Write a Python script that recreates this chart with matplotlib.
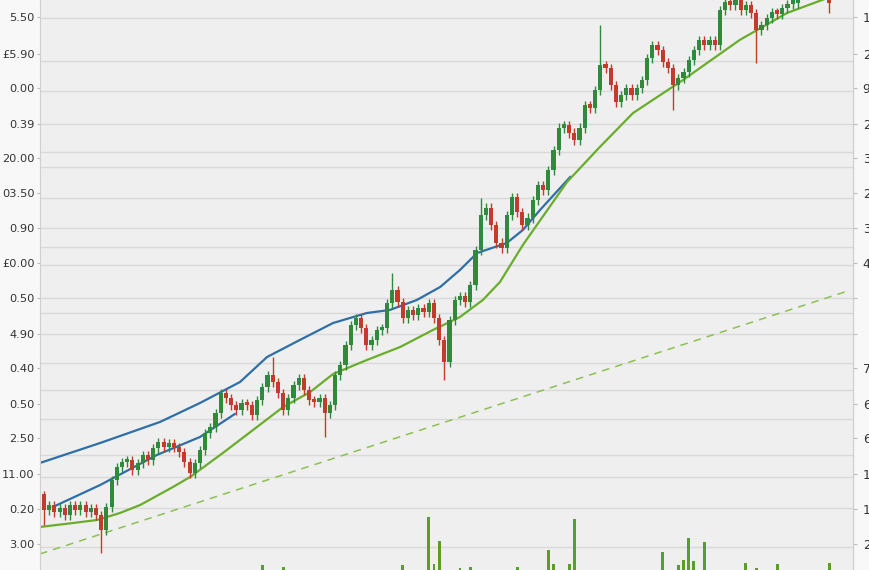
import matplotlib.pyplot as plt

# closing prices, one per session (first open given separately)
closes = [
    9.0, 9.5, 8.8, 9.2, 8.5, 9.5, 9.0, 9.5, 8.8, 9.2,
    8.5, 7.0, 9.3, 12.0, 13.3, 13.8, 14.0, 13.0, 13.7, 14.5,
    14.0, 15.2, 15.8, 15.3, 15.7, 15.3, 14.8, 13.8, 12.7, 13.7,
    15.0, 16.7, 17.3, 18.7, 20.7, 20.2, 19.5, 19.0, 19.7, 19.5,
    18.5, 20.0, 21.3, 22.5, 21.8, 20.7, 19.0, 20.2, 21.5, 22.2,
    21.0, 20.0, 19.8, 20.2, 18.7, 19.5, 22.5, 23.5, 25.5, 27.5,
    28.2, 27.2, 25.5, 26.0, 27.0, 27.2, 29.7, 31.0, 29.8, 28.2,
    29.0, 28.5, 29.2, 28.8, 29.7, 28.2, 26.0, 23.8, 28.0, 30.0,
    30.4, 29.8, 31.5, 35.0, 38.5, 39.2, 37.5, 35.7, 35.2, 38.5,
    40.3, 38.8, 37.5, 38.2, 40.0, 41.5, 41.0, 43.0, 45.0, 47.2,
    47.5, 46.7, 46.0, 47.2, 49.5, 49.2, 51.0, 53.5, 53.2, 51.5,
    49.8, 50.5, 51.2, 50.5, 51.2, 52.0, 54.2, 55.5, 55.0, 53.8,
    53.2, 51.5, 52.2, 52.8, 54.0, 55.0, 56.0, 55.5, 56.0, 55.5,
    59.0, 59.8, 59.5, 60.0, 59.0, 59.5, 58.7, 57.0, 57.5, 58.2,
    58.8, 58.6, 59.2, 59.6, 59.7, 61.0, 62.0, 62.5, 62.0, 61.5,
    61.0, 59.7,
]
first_open = 10.6
long_highs = {0: 10.9, 44: 24.3, 67: 32.7, 84: 40.2, 107: 57.5}
long_lows = {0: 7.5, 11: 4.7, 54: 16.3, 77: 22.0, 121: 49.0, 137: 53.7, 151: 58.7}

# moving averages / trend (session index, price)
ma_upper_x = [-0.8, 10.8, 22.3, 30.0, 37.7, 42.9, 49.2, 55.6, 62.1, 66.5, 71.7, 76.2, 80.0, 83.3, 89.0, 92.1, 95.4, 101.2]
ma_upper_y = [13.7, 15.7, 17.8, 19.7, 21.8, 24.3, 26.0, 27.7, 28.7, 29.0, 30.0, 31.3, 33.0, 34.7, 35.7, 37.0, 39.0, 42.3]
ma_lower_x = [1.7, 10.8, 21.7, 30.0, 36.7]
ma_lower_y = [9.3, 11.5, 14.5, 16.3, 18.6]
ma_green_x = [-0.8, 5.6, 10.2, 14.6, 18.5, 24.8, 28.1, 34.4, 40.2, 46.0, 51.2, 55.6, 62.1,
              68.5, 74.8, 80.0, 84.4, 87.7, 92.1, 100.6, 106.9, 113.3, 122.9, 133.8, 142.9, 151.2]
ma_green_y = [7.3, 7.7, 8.0, 8.7, 9.5, 11.3, 12.3, 14.7, 17.0, 19.3, 20.8, 22.6, 24.0,
              25.3, 27.0, 28.3, 30.0, 31.8, 35.5, 41.8, 45.3, 48.7, 52.0, 56.0, 58.7, 60.3]
trend_x = [-0.8, 154.0]
trend_y = [4.6, 30.8]

# volume bars (session index, volume)
vol_idx = [42, 46, 69, 74, 75, 76, 80, 82, 91, 97, 98, 101, 102,
           119, 122, 123, 124, 125, 127, 135, 137, 141, 151]
vol_val = [500, 300, 500, 5300, 600, 2900, 200, 300, 300, 2000, 600, 600, 5100,
           1800, 500, 1000, 3200, 900, 2800, 700, 200, 600, 700]

tick_pos = [58.3, 54.6, 51.2, 47.6, 44.2, 40.7, 37.2, 33.7, 30.2, 26.6, 23.2, 19.6, 16.2, 12.6, 9.1, 5.6]
left_labels = ["5.50", "£5.90", "0.00", "0.39", "20.00", "03.50", "0.90", "£0.00",
               "0.50", "4.90", "0.40", "0.50", "2.50", "11.00", "0.20", "3.00"]
right_labels = ["1", "2", "9", "2", "3", "2", "3", "4", "", "", "7", "6", "6", "1", "1", "2"]
grid_pos = [58.2, 53.9, 50.9, 47.6, 44.8, 43.3, 40.2, 37.2, 35.3, 33.5, 30.2, 28.7,
            26.6, 23.7, 21.0, 18.1, 14.5, 12.3, 9.2, 5.3]

UP = "#2f8a3c"
DOWN = "#c23b2c"

fig = plt.figure(figsize=(8.7, 5.7), dpi=100, facecolor="#f8f8f8")
ax = fig.add_axes([40 / 870, 0, 813 / 870, 1])
ax.set_facecolor("#efefef")

for g in grid_pos:
    ax.axhline(g, color="#d9d9d9", lw=1, zorder=0)

# trend + moving averages
ax.plot(trend_x, trend_y, color="#8cc152", lw=1.1, ls=(0, (5, 4)), zorder=1)
ax.plot(ma_upper_x, ma_upper_y, color="#2f6fa7", lw=1.6, zorder=2)
ax.plot(ma_lower_x, ma_lower_y, color="#2f6fa7", lw=1.6, zorder=2)
ax.plot(ma_green_x, ma_green_y, color="#6aad2c", lw=1.6, zorder=2)

# candles
opens = [first_open] + closes[:-1]
for i, (o, c) in enumerate(zip(opens, closes)):
    col = UP if c >= o else DOWN
    hi = long_highs.get(i, max(o, c) + 0.45)
    lo = long_lows.get(i, min(o, c) - 0.45)
    ax.vlines(i, lo, hi, color=col, lw=1, zorder=3)
    ax.bar(i, max(abs(c - o), 0.35), bottom=min(o, c), width=0.8, color=col, zorder=4)

ax.set_xlim(-0.77, 155.6)
ax.set_ylim(3.0, 60.0)
ax.set_xticks([])
ax.set_yticks(tick_pos, left_labels)
ax.tick_params(axis="y", length=2.5, width=0.8, color="#bbbbbb", pad=1.5,
               labelsize=8.2, labelcolor="#333333")
for s in ["top", "bottom"]:
    ax.spines[s].set_visible(False)
for s in ["left", "right"]:
    ax.spines[s].set_color("#cfcfcf")

# right-hand labels
axr = ax.twinx()
axr.set_ylim(ax.get_ylim())
axr.set_yticks(tick_pos, right_labels)
axr.tick_params(axis="y", length=3, width=0.8, color="#bbbbbb", pad=4,
                labelsize=9, labelcolor="#333333")
for s in ["top", "bottom", "left"]:
    axr.spines[s].set_visible(False)
axr.spines["right"].set_color("#cfcfcf")

# volume
axv = ax.twinx()
axv.bar(vol_idx, vol_val, width=0.55, color="#5a9e2a", zorder=3)
axv.set_ylim(0, 57000)
axv.set_yticks([])
for s in axv.spines.values():
    s.set_visible(False)

fig.savefig("out.png", dpi=100, facecolor=fig.get_facecolor())
